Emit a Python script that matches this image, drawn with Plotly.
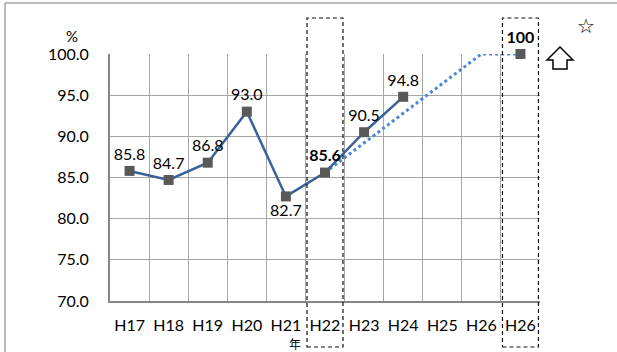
import plotly.graph_objects as go

categories = ["H17", "H18", "H19", "H20", "H21", "H22", "H23", "H24", "H25", "H26", "H26"]
actual_values = [85.8, 84.7, 86.8, 93.0, 82.7, 85.6, 90.5, 94.8]
actual_labels = ["85.8", "84.7", "86.8", "93.0", "82.7", "<b>85.6</b>", "90.5", "94.8"]
actual_label_pos = ["top center"] * 4 + ["bottom center"] + ["top center"] * 3
target_idx = [5, 9, 10]
target_values = [85.6, 100.0, 100.0]
y_ticks = [70, 75, 80, 85, 90, 95, 100]

FONT = "Lato, 'Open Sans', sans-serif"
W, H = 617, 352
L, R, T, B = 110, 77, 54, 51
PW, PH = W - L - R, H - T - B


def px(x):
    return (x - L) / PW


def py(y):
    return (H - B - y) / PH


x_idx = list(range(len(categories)))

fig = go.Figure()

# target (dotted) line
fig.add_trace(go.Scatter(
    x=target_idx, y=target_values, mode="lines",
    line=dict(color="#4a88d2", width=3, dash="dot"),
    cliponaxis=False, hoverinfo="skip", showlegend=False))
fig.add_trace(go.Scatter(
    x=[target_idx[-1]], y=[target_values[-1]], mode="markers+text",
    marker=dict(symbol="square", size=10, color="#595959"),
    text=["<b>100</b>"], textposition="top center",
    textfont=dict(family=FONT, size=16, color="#000"),
    cliponaxis=False, showlegend=False))

# actual line
fig.add_trace(go.Scatter(
    x=x_idx[:len(actual_values)], y=actual_values, mode="lines+markers+text",
    line=dict(color="#3a6299", width=2.5),
    marker=dict(symbol="square", size=10, color="#595959"),
    text=actual_labels, textposition=actual_label_pos,
    textfont=dict(family=FONT, size=16, color="#000"),
    cliponaxis=False, showlegend=False))

shapes = []
# dashed boxes around H22 and the last H26
for c in (5, 10):
    shapes.append(dict(type="rect", xref="x", yref="paper",
                       x0=c - 0.46, x1=c + 0.46, y0=py(347), y1=py(18),
                       line=dict(color="#111", width=1.2, dash="4px,3px"),
                       fillcolor="rgba(0,0,0,0)", layer="above"))
# outer frame (left + top)
shapes.append(dict(type="line", xref="paper", yref="paper",
                   x0=px(5), x1=px(5), y0=py(3), y1=py(360),
                   line=dict(color="#a6a6a6", width=1.5)))
shapes.append(dict(type="line", xref="paper", yref="paper",
                   x0=px(5), x1=px(640), y0=py(3), y1=py(3),
                   line=dict(color="#a6a6a6", width=1.5)))
# outlined up arrow
pts = [(560, 47), (573, 60), (567, 60), (567, 69), (553, 69), (553, 60), (547, 60)]
path = "M " + " L ".join(f"{px(a):.4f},{py(b):.4f}" for a, b in pts) + " Z"
shapes.append(dict(type="path", xref="paper", yref="paper", path=path,
                   line=dict(color="#000", width=1.5), fillcolor="white"))

annotations = [
    dict(text="%", xref="paper", yref="paper", x=px(72), y=py(36),
         xanchor="center", yanchor="middle",
         showarrow=False, font=dict(family=FONT, size=15, color="#000")),
    dict(text="年", xref="paper", yref="paper", x=px(295), y=py(343),
         xanchor="center", yanchor="middle", borderpad=0,
         showarrow=False, font=dict(family="Noto Sans CJK JP", size=12, color="#000")),
    dict(text="☆", xref="paper", yref="paper", x=px(586), y=py(26),
         xanchor="center", yanchor="middle",
         showarrow=False, font=dict(family="DejaVu Sans", size=20, color="#000")),
]

fig.update_layout(
    width=W, height=H,
    margin=dict(l=L, r=R, t=T, b=B, pad=0),
    paper_bgcolor="white", plot_bgcolor="white",
    shapes=shapes, annotations=annotations,
    xaxis=dict(
        range=[-0.5, 10.5], tickvals=x_idx, ticktext=categories,
        showgrid=False, zeroline=False, fixedrange=True,
        showline=True, linecolor="#868686", linewidth=2,
        ticks="", ticklabelstandoff=9,
        tickfont=dict(family=FONT, size=16, color="#000"),
        minor=dict(tickvals=[i + 0.5 for i in x_idx], showgrid=True,
                   gridcolor="#a6a6a6", gridwidth=1),
    ),
    yaxis=dict(
        range=[70, 100], tickvals=y_ticks, tickformat=".1f",
        showgrid=True, gridcolor="#a6a6a6", gridwidth=1,
        zeroline=False, fixedrange=True,
        showline=True, linecolor="#868686", linewidth=2,
        ticks="", ticklabelstandoff=16,
        tickfont=dict(family=FONT, size=16, color="#000"),
    ),
)

fig.write_html("out.html", config={"displayModeBar": False},
               post_script="document.body.style.margin='0';document.body.style.overflow='hidden';")
